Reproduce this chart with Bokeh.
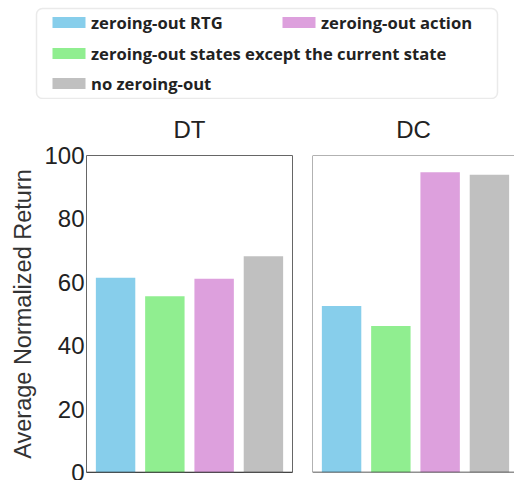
from bokeh.plotting import figure
from bokeh.layouts import column, row
from bokeh.models import ColumnDataSource, BoxAnnotation, Range1d, FixedTicker, Span
from bokeh.core.properties import value
from bokeh.embed import file_html
from bokeh.resources import INLINE

# --- data -------------------------------------------------------------
series = [
    "zeroing-out RTG",
    "zeroing-out states except the current state",
    "zeroing-out action",
    "no zeroing-out",
]
colors = ["#87CEEB", "#90EE90", "#DDA0DD", "#C0C0C0"]
panels = ["DT", "DC"]
dt_values = [61.4, 55.6, 61.1, 68.2]
dc_values = [52.5, 46.2, 94.7, 93.9]
y_ticks = [0, 20, 40, 60, 80, 100]
y_label = "Average Normalized Return"

TICK_FONT = "Liberation Sans"
LEGEND_FONT = "Open Sans"
FRAME = "#666666"

# --- legend panel (drawn in a pixel-like coordinate space) -------------
leg = figure(width=514, height=99, x_range=Range1d(0, 514), y_range=Range1d(99, 0),
             toolbar_location=None, output_backend="svg", min_border=0)
leg.axis.visible = False
leg.grid.visible = False
leg.outline_line_color = None
leg.add_layout(BoxAnnotation(left=36, right=497, top=8, bottom=98, border_radius=6,
                             fill_color="white", fill_alpha=1.0, level="underlay",
                             line_color="#bbbbbb", line_width=1.5))

# legend item slots: (swatch x-center, row y-center) for each series
slot_x = [68.5, 68.5, 298.5, 68.5]
slot_y = [22, 53, 22, 83]
leg_src = ColumnDataSource(dict(
    x=slot_x, y=slot_y, tx=[sx + 22 for sx in slot_x], label=series, color=colors))
leg.rect(x="x", y="y", width=33, height=11, fill_color="color", line_color=None, source=leg_src)
leg.text(x="tx", y="y", text="label", source=leg_src, text_baseline="middle",
         text_align="left", text_font=value(LEGEND_FONT), text_font_size="16.6px",
         text_font_style="bold", text_color="#222222")

# --- bar panels ----------------------------------------------------------
PX_PER_UNIT = 206 / 4.18
X0 = -0.59


def make_panel(title, values, width, left, right, show_y):
    frame_w = width - left - right
    p = figure(width=width, height=381, title=title,
               x_range=Range1d(X0, X0 + frame_w / PX_PER_UNIT), y_range=Range1d(0, 100),
               toolbar_location=None, output_backend="svg",
               min_border_left=left, min_border_right=right,
               min_border_top=56, min_border_bottom=8)
    p.title.align = "center"
    p.title.text_font = TICK_FONT
    p.title.text_font_size = "24px"
    p.title.text_font_style = "normal"
    p.title.text_color = "#222222"
    p.title.standoff = 26
    p.grid.visible = False
    p.xaxis.visible = False

    src = ColumnDataSource(dict(x=list(range(len(values))), top=values, color=colors))
    p.vbar(x="x", top="top", width=0.8, fill_color="color", line_color=None, source=src)

    if show_y:
        p.outline_line_color = FRAME
        ax = p.yaxis[0]
        ax.ticker = FixedTicker(ticks=y_ticks)
        ax.axis_line_color = None
        ax.major_tick_line_color = None
        ax.minor_tick_line_color = None
        ax.major_tick_out = 0
        ax.major_tick_in = 0
        ax.minor_tick_out = 0
        ax.minor_tick_in = 0
        ax.major_label_standoff = 2
        ax.major_label_text_font = TICK_FONT
        ax.major_label_text_font_size = "24px"
        ax.major_label_text_color = "#222222"
        ax.axis_label = y_label
        ax.axis_label_standoff = 5
        ax.axis_label_text_font = TICK_FONT
        ax.axis_label_text_font_size = "23.5px"
        ax.axis_label_text_font_style = "normal"
        ax.axis_label_text_color = "#333333"
    else:
        p.yaxis.visible = False
        p.outline_line_color = None
        p.add_layout(Span(location=100, dimension="width", line_color=FRAME, line_width=1))
        p.add_layout(Span(location=X0, dimension="height", line_color=FRAME, line_width=1))
    p.add_layout(Span(location=0, dimension="width", line_color="#222222", line_width=1.3))
    return p


p_dt = make_panel(panels[0], dt_values, 302, 86, 10, True)
p_dc = make_panel(panels[1], dc_values, 212, 10, 0, False)

layout = column(leg, row(p_dt, p_dc))

open("out.html", "w").write(file_html(layout, INLINE))
